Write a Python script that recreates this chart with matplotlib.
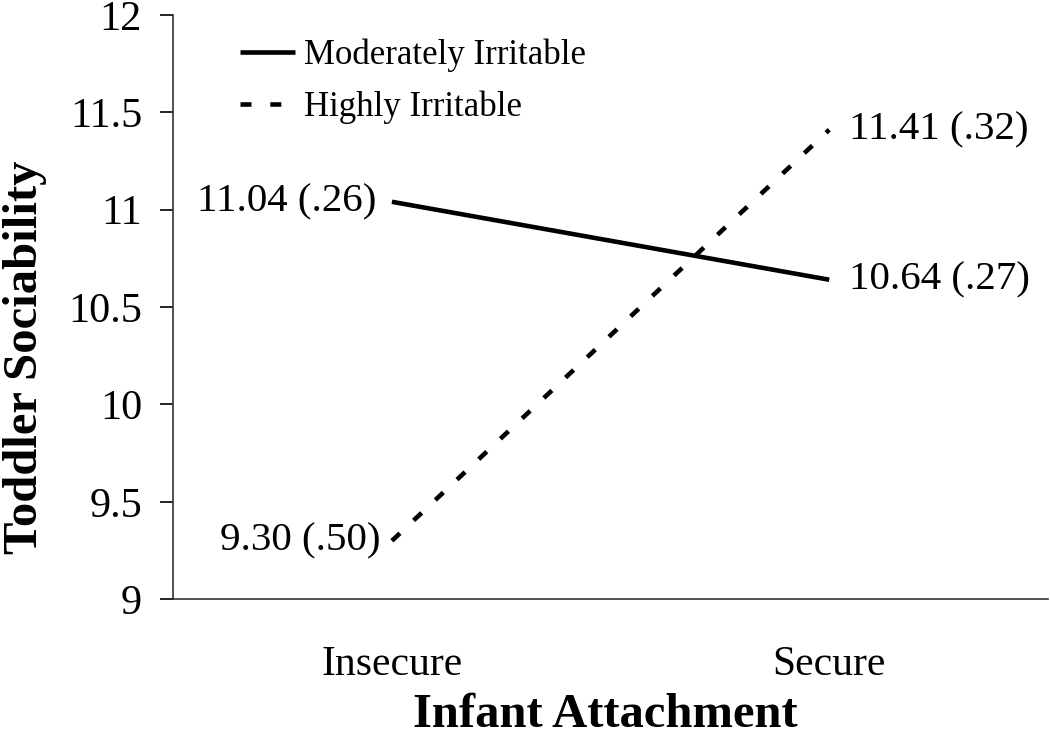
import matplotlib
matplotlib.use("Agg")
import matplotlib.pyplot as plt

categories = ["Insecure", "Secure"]
moderate = [11.04, 10.64]
moderate_se = [".26", ".27"]
high = [9.30, 11.41]
high_se = [".50", ".32"]
yticks = [9, 9.5, 10, 10.5, 11, 11.5, 12]
ytick_labels = ["9", "9.5", "10", "10.5", "11", "11.5", "12"]

plt.rcParams['font.family'] = ['Liberation Serif', 'DejaVu Serif']

fig = plt.figure(figsize=(10.5, 7.38), dpi=100)
ax = fig.add_axes([0.165, 0.188, 0.833, 0.792])

x = list(range(len(categories)))
lw = 3.3
ax.plot(x, moderate, color='black', lw=lw, solid_capstyle='butt', label='Moderately Irritable')
ax.plot(x, high, color='black', lw=lw, dashes=(2.4, 4.1), dash_capstyle='butt', label='Highly Irritable')

fs_data = 29.5
ax.text(x[0] - 0.035, moderate[0], f"{moderate[0]:.2f} ({moderate_se[0]})", ha='right', va='center', fontsize=fs_data)
ax.text(x[0] - 0.025, high[0], f"{high[0]:.2f} ({high_se[0]})", ha='right', va='center', fontsize=fs_data)
ax.text(x[1] + 0.045, moderate[1], f"{moderate[1]:.2f} ({moderate_se[1]})", ha='left', va='center', fontsize=fs_data)
ax.text(x[1] + 0.045, high[1], f"{high[1]:.2f} ({high_se[1]})", ha='left', va='center', fontsize=fs_data)

ax.set_xlim(-0.5, 1.5)
ax.set_ylim(9, 12)
ax.set_yticks(yticks)
ax.set_yticklabels(ytick_labels, fontsize=30.5)
ax.set_xticks(x)
ax.set_xticklabels(categories, fontsize=30)
ax.tick_params(axis='x', length=0, pad=33)
ax.tick_params(axis='y', length=9.5, width=1.2, direction='out', pad=13)

for s in ['top', 'right']:
    ax.spines[s].set_visible(False)
for s in ['left', 'bottom']:
    ax.spines[s].set_linewidth(1.2)
    ax.spines[s].set_color('#333333')

ax.set_xlabel("Infant Attachment", fontsize=35, fontweight='bold', va='bottom')
ax.xaxis.set_label_coords((605 - 173) / 875, (599 - 737) / 584.5)
ax.set_ylabel("Toddler Sociability", fontsize=35, fontweight='bold', va='center', ha='center')
ax.yaxis.set_label_coords((25 - 173) / 875, (599 - 357) / 584.5)

leg = ax.legend(loc='upper left', bbox_to_anchor=(0.060, 0.983), frameon=False, fontsize=25,
                handlelength=1.6, handletextpad=0.25, labelspacing=0.53, borderaxespad=0)

fig.savefig("out.png", dpi=100)
